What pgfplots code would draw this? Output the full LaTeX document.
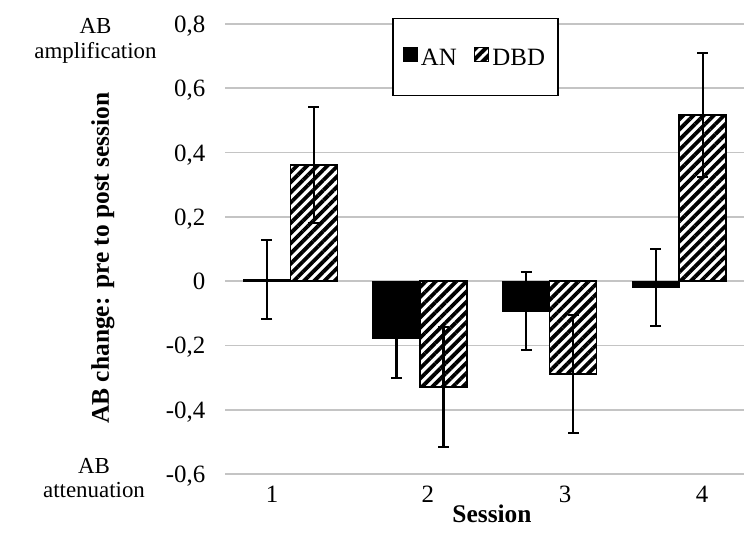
\documentclass[border=0pt]{standalone}
\usepackage{fontspec}
\setmainfont{Liberation Serif}
\usepackage{pgfplots}
\usepackage{pgfplotstable}
\pgfplotsset{compat=1.18}
\usetikzlibrary{patterns.meta}

\pgfplotstableread{
x y e
1 0.006 0.123
2 -0.178 0.124
3 -0.093 0.121
4 -0.020 0.120
}\antable
\pgfplotstableread{
x y e
1 0.362 0.180
2 -0.329 0.187
3 -0.289 0.184
4 0.517 0.193
}\dbdtable

\begin{document}
\begin{tikzpicture}
\begin{axis}[
  at={(0,0)}, anchor=south west,
  scale only axis, width=518.5bp, height=450bp,
  xmin=0.5, xmax=4.5, ymin=-0.6, ymax=0.8,
  clip=false,
  ybar=0pt, bar width=47bp,
  axis line style={draw=none},
  major tick length=0pt,
  ytick={-0.6,-0.4,-0.2,0,0.2,0.4,0.6,0.8},
  yticklabels={{-0,6},{-0,4},{-0,2},0,{0,2},{0,4},{0,6},{0,8}},
  ymajorgrids, grid style={draw=black!23, line width=1.6bp},
  xtick={0.859,2.062,3.119,4.176},
  xticklabels={1,2,3,4},
  tick label style={font=\fontsize{25}{30}\selectfont},
  yticklabel style={anchor=base east, inner sep=0pt, xshift=-20bp, yshift=-8.5bp},
  xticklabel style={anchor=base, inner sep=0pt, yshift=-28bp},
  xlabel={Session},
  xlabel style={at={(axis description cs:0.514,0)}, anchor=base, yshift=-48bp, inner sep=0pt, font=\fontsize{25.5}{30}\selectfont\bfseries},
  ylabel={AB change: pre to post session},
  ylabel style={at={(axis description cs:-0.2247,0.48)}, anchor=base, inner sep=0pt, font=\fontsize{25.5}{30}\selectfont\bfseries},
  legend columns=2,
  legend style={at={(axis description cs:0.4822,0.9267)}, anchor=center, draw=black, line width=1.2bp, fill=white,
    font=\fontsize{25}{30}\selectfont, inner xsep=10bp, inner ysep=28bp,
    /tikz/every even column/.append style={column sep=14bp},
    nodes={inner xsep=3bp, inner ysep=0bp}},
]
\addplot[fill=black, draw=black, line width=1.2bp,
  legend image code/.code={\draw[fill=black, draw=black, line width=1bp] (0bp,-3bp) rectangle (14bp,11bp);},
  error bars/.cd, y dir=both, y explicit,
  error bar style={line width=2.2bp, draw=black},
  error mark options={rotate=90, mark size=5.5bp, line width=2.2bp, draw=black}]
  table[x=x, y=y, y error=e]{\antable};
\addplot[fill=white, draw=black, line width=1.5bp,
  postaction={pattern={Lines[angle=45, distance=7.2bp, line width=3.8bp]}, pattern color=black},
  legend image code/.code={\draw[fill=white, draw=black, line width=1.5bp, postaction={pattern={Lines[angle=45, distance=7.2bp, line width=3.8bp]}, pattern color=black}] (0bp,-3bp) rectangle (14bp,11bp);},
  error bars/.cd, y dir=both, y explicit,
  error bar style={line width=2.2bp, draw=black},
  error mark options={rotate=90, mark size=5.5bp, line width=2.2bp, draw=black}]
  table[x=x, y=y, y error=e]{\dbdtable};
\legend{AN,DBD}
\node[font=\fontsize{23}{28}\selectfont, anchor=base, inner sep=0pt] at (axis description cs:-0.2507,0.9778) {AB};
\node[font=\fontsize{23}{28}\selectfont, anchor=base, inner sep=0pt] at (axis description cs:-0.2507,0.9244) {amplification};
\node[font=\fontsize{23}{28}\selectfont, anchor=base, inner sep=0pt] at (axis description cs:-0.2536,0.0022) {AB};
\node[font=\fontsize{23}{28}\selectfont, anchor=base, inner sep=0pt] at (axis description cs:-0.2536,-0.0533) {attenuation};
\end{axis}
\pgfresetboundingbox
\path (-225.5bp,-60bp) rectangle (518.5bp,474bp);
\end{tikzpicture}
\end{document}
